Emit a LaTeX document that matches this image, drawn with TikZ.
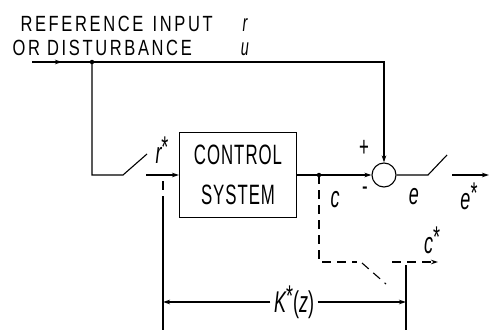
\documentclass[tikz,border=0pt]{standalone}
\usepackage{fontspec}
\setmainfont{Liberation Sans}[FakeStretch=0.6, LetterSpace=3.5]
\newfontfamily\spacedfont{Liberation Sans}[FakeStretch=0.75, LetterSpace=12]
\usetikzlibrary{arrows.meta}
\begin{document}
\begin{tikzpicture}[x=1pt, y=-1pt, line width=1.1pt,
    >={Stealth[length=7pt,width=4.5pt]},
    lbl/.style={font=\fontsize{28}{30}\selectfont, inner sep=0pt},
    toplbl/.style={font=\fontsize{22}{24}\selectfont\spacedfont, inner sep=0pt,
        text height=16pt, text depth=0pt, anchor=base west},
    var/.style={font=\fontsize{30}{32}\selectfont\itshape, inner sep=0pt},
    dsh/.style={dash pattern=on 9pt off 6pt},
    dot/.style={circle, fill, inner sep=0pt, minimum size=4.5pt}]
    \useasboundingbox (0,0) rectangle (490,332);

    % input labels
    \node[toplbl] (ref) at (20,31) {REFERENCE\hspace{2pt} INPUT};
    \node[toplbl] (dist) at (12,55) {OR DISTURBANCE};
    \node[var, font=\fontsize{24}{26}\selectfont\itshape, text height=12pt, text depth=0pt, anchor=base] (r) at (245,31) {r};
    \node[var, font=\fontsize{24}{26}\selectfont\itshape, text height=12pt, text depth=0pt, anchor=base] (u) at (245,55) {u};

    % blocks
    \node[draw, lbl, minimum width=117, minimum height=85, align=center] (ctrl) at (238,175) {CONTROL\\[10pt]SYSTEM};
    \node[draw, circle, minimum size=24, inner sep=0pt] (sum) at (384,175) {};

    % points
    \coordinate (in) at (32,62);
    \node[dot] (tap) at (92,62) {};
    \coordinate (s1a) at (123,175);
    \coordinate (s1b) at (147,154);
    \coordinate (s1c) at (146,175);
    \node[dot] (cout) at (319,175) {};
    \coordinate (s2a) at (428,175);
    \coordinate (s2b) at (447,155);
    \coordinate (s2c) at (452,175);
    \coordinate (eout) at (489,175);

    % main loop
    \draw (in) -- (tap.center);
    \draw[->] (in) -- (62,62);
    \draw[->] (tap.center) -| (sum.north);
    \draw (tap.center) |- (s1a) -- (s1b);
    \draw[->] (s1c) -- (ctrl.west);
    \draw[->] (ctrl.east) -- (sum.west);
    \draw (sum.east) -- (s2a) -- (s2b);
    \draw[->] (s2c) -- (eout);

    \node[var] (rs) at (162,150) {r\raisebox{6pt}{\upshape *}};
    \node[lbl] (plus) at (364,148) {+};
    \node[lbl] (minus) at (365,191) {-};
    \node[var] (c) at (335,200) {c};
    \node[var] (e) at (414,197) {e};
    \node[var] (es) at (469,196) {e\raisebox{6pt}{\upshape *}};

    % sampled output
    \coordinate (d1) at (357,262);
    \coordinate (d2a) at (362,263);
    \coordinate (d2b) at (386,284);
    \coordinate (d3) at (392,262);
    \coordinate (cst) at (438,262);
    \draw[dsh] (cout.center) |- (d1);
    \draw[dsh] (d2a) -- (d2b);
    \draw[dsh, ->] (d3) -- (cst);
    \node[var] (cs) at (432,240) {c\raisebox{6pt}{\upshape *}};

    % K*(z) span
    \coordinate (kl) at (163,181);
    \coordinate (km) at (163,205);
    \coordinate (kb) at (163,330);
    \coordinate (kr) at (406,265);
    \coordinate (krb) at (406,330);
    \draw[dsh] (kl) -- (km);
    \draw (km) -- (kb);
    \draw (kr) -- (krb);
    \node[var, inner sep=3pt] (k) at (294,302) {K\raisebox{6pt}{\upshape *}\upshape(\itshape z\upshape)};
    \draw[->] (k.west) -- (kb |- k);
    \draw[->] (k.east) -- (krb |- k);
\end{tikzpicture}
\end{document}
